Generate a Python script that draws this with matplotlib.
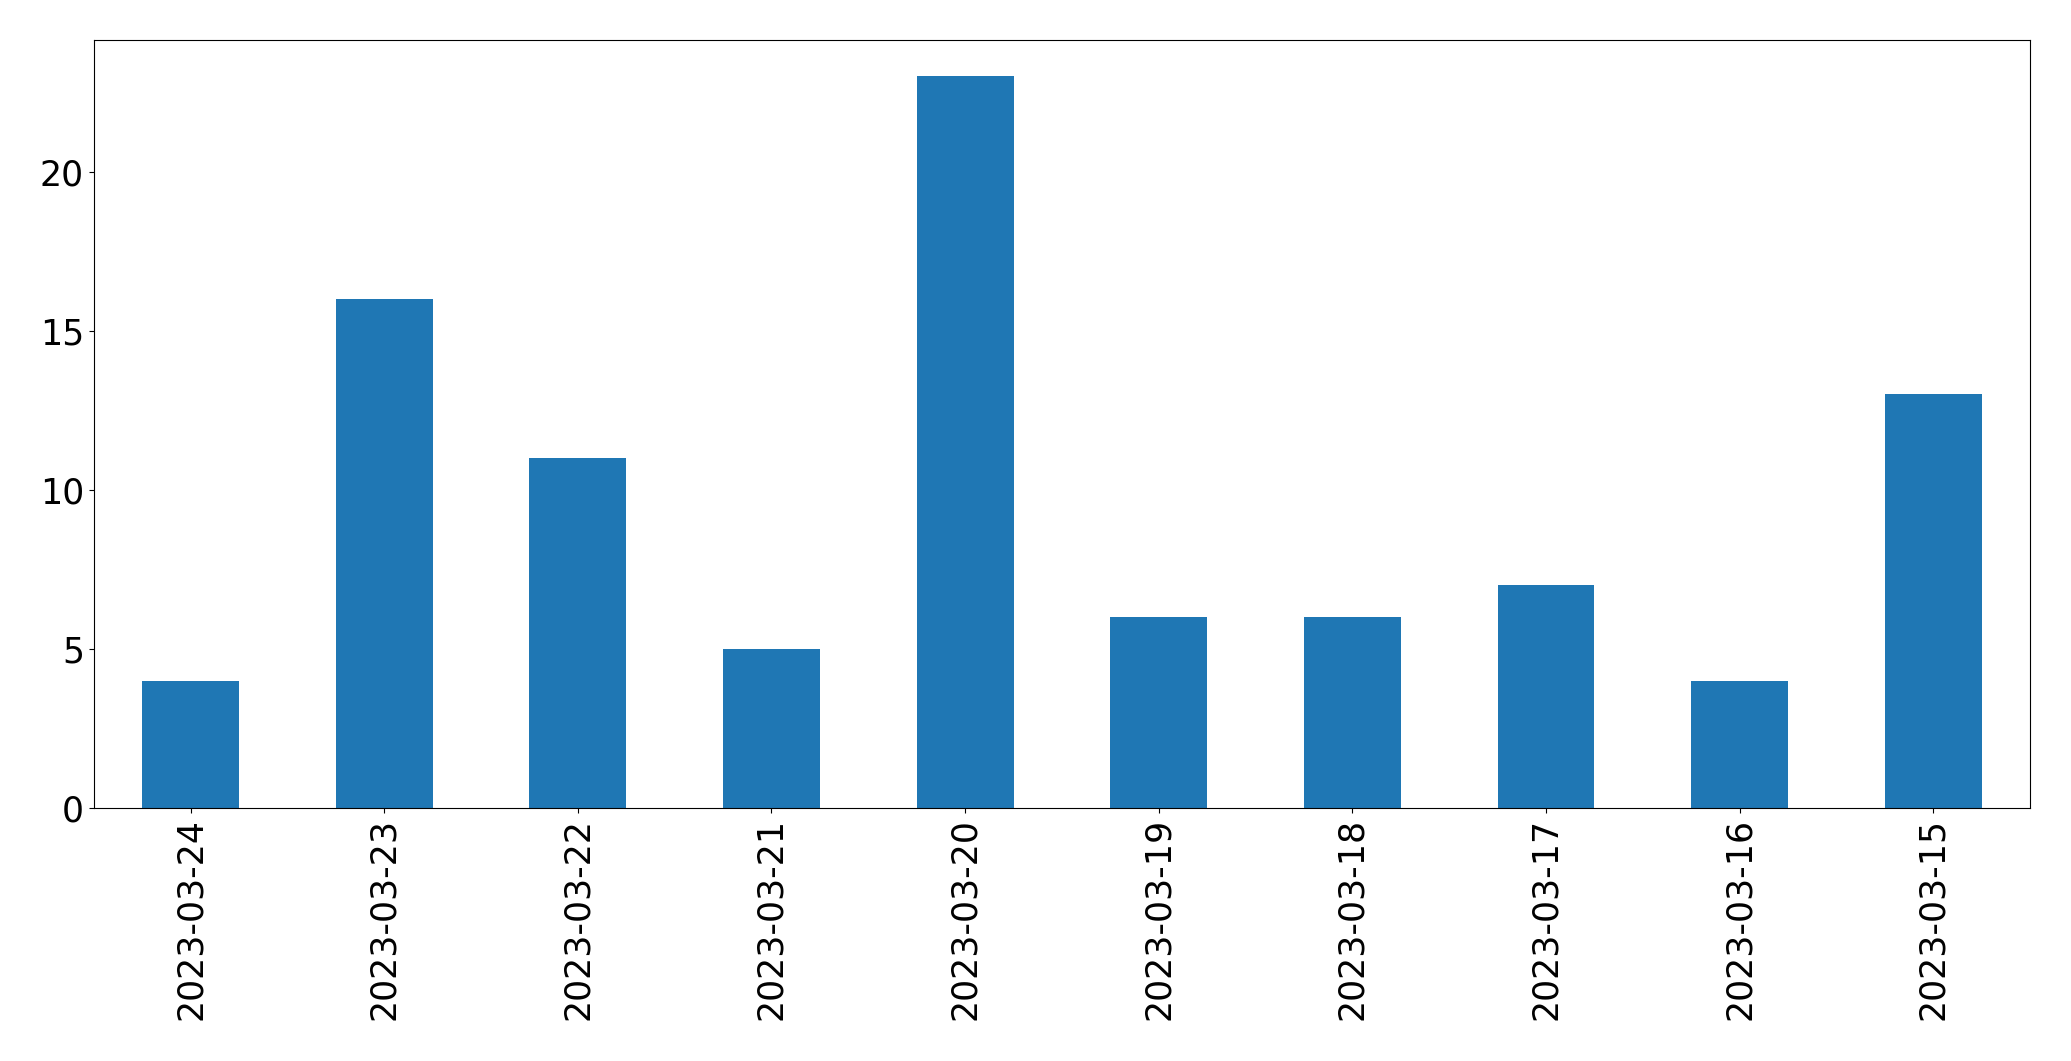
import numpy as np
import matplotlib.pyplot as plt

dates = ['2023-03-24', '2023-03-23', '2023-03-22', '2023-03-21', '2023-03-20',
         '2023-03-19', '2023-03-18', '2023-03-17', '2023-03-16', '2023-03-15']
counts = [4, 16, 11, 5, 23, 6, 6, 7, 4, 13]

fig, ax = plt.subplots(figsize=(20.71, 10.61), dpi=100)
x = np.arange(len(dates))
ax.bar(x, counts, width=0.5, color='#1f77b4')
ax.set_xlim(-0.5, len(dates) - 0.5)
ax.set_ylim(0, max(counts) * 1.05)
ax.set_xticks(x)
ax.set_xticklabels(dates, rotation=90)
ax.tick_params(labelsize=25)
fig.subplots_adjust(left=0.0453, right=0.9802, top=0.9627, bottom=0.2385)
fig.savefig('out.png', dpi=100)
